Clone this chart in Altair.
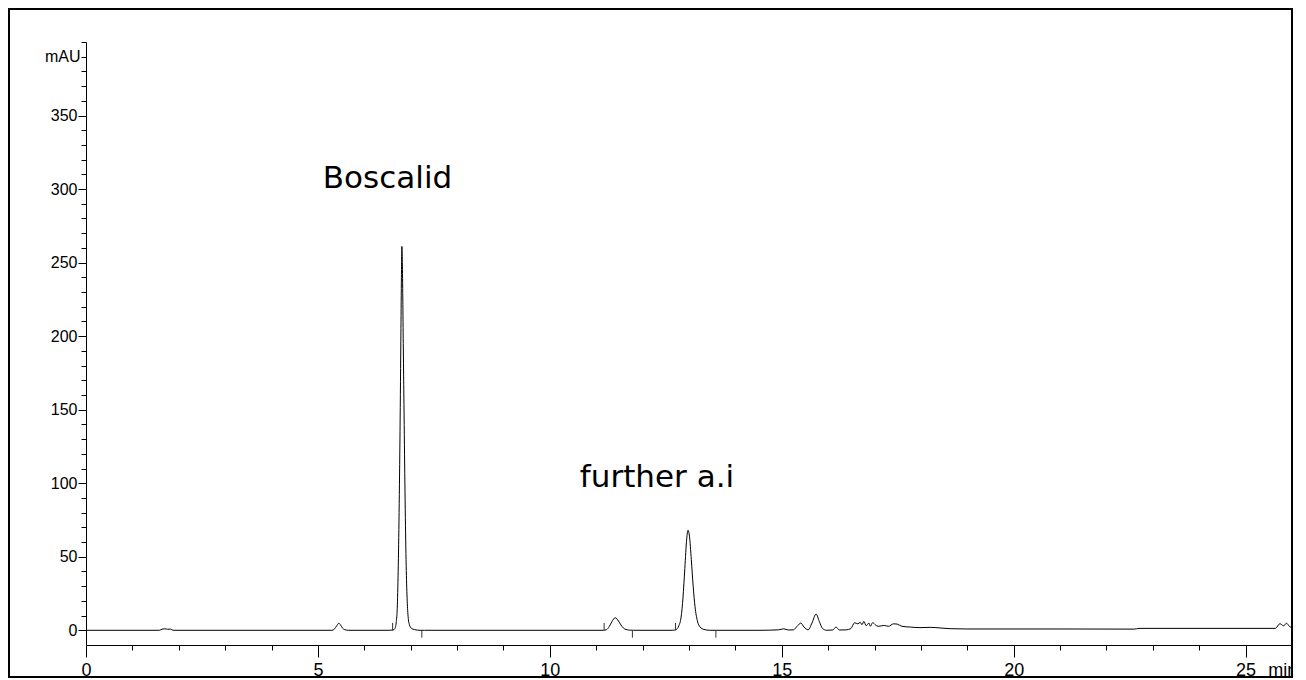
import altair as alt
import pandas as pd

# ---- chromatogram trace (time in min, signal in mAU) ----
start_t = [0.0, 1.58, 1.64, 1.70, 1.76, 1.82, 1.88, 5.30, 5.36, 5.40, 5.45, 5.49, 5.53, 5.58, 5.66, 6.55]
start_v = [0.0, 0.0, 0.8, 1.0, 0.7, 0.8, 0.0, 0.0, 1.0, 2.8, 4.8, 3.5, 1.5, 0.4, 0.0, 0.0]

boscalid_t = [6.62, 6.66, 6.69, 6.71, 6.73, 6.75, 6.77, 6.79, 6.80, 6.81, 6.82, 6.84, 6.86, 6.88,
              6.90, 6.92, 6.94, 6.97, 7.01, 7.08, 7.20]
boscalid_v = [0.2, 1.2, 6.0, 15.0, 40.0, 80.0, 135.0, 205.0, 240.0, 261.0, 250.0, 195.0, 140.0, 88.0,
              48.0, 24.0, 11.0, 4.0, 1.5, 0.5, 0.0]

mid_t = [11.15, 11.22, 11.28, 11.34, 11.41, 11.48, 11.55, 11.62, 11.72, 11.80]
mid_v = [0.0, 0.4, 2.5, 6.0, 8.5, 6.3, 2.8, 0.8, 0.1, 0.0]

further_t = [12.65, 12.72, 12.78, 12.83, 12.87, 12.91, 12.95, 12.98, 13.01, 13.05, 13.09, 13.13,
             13.18, 13.24, 13.32, 13.45]
further_v = [0.0, 0.5, 3.0, 9.0, 22.0, 42.0, 62.0, 68.0, 64.0, 48.0, 30.0, 16.0,
             6.5, 2.2, 0.6, 0.0]

late_t = [14.53, 14.93, 15.04, 15.14, 15.25, 15.34, 15.41, 15.48, 15.57, 15.65, 15.74, 15.81, 15.88,
          15.97, 16.10, 16.17, 16.24, 16.39, 16.49, 16.57, 16.64, 16.69, 16.73, 16.77, 16.82, 16.88,
          16.91, 16.96, 17.02, 17.08, 17.21, 17.30, 17.41, 17.49, 17.59, 17.77, 17.98, 18.20, 18.41,
          18.63, 18.99, 21.00, 22.60, 22.70, 25.64, 25.74, 25.82, 25.88, 25.95, 26.00]
late_v = [0.0, 0.3, 1.0, 0.2, 0.3, 3.1, 4.9, 2.2, 0.3, 4.9, 11.0, 6.0, 1.2,
          0.0, 0.2, 2.2, 0.2, 0.3, 1.2, 5.1, 4.4, 5.4, 3.8, 6.0, 3.1, 4.9,
          2.7, 5.2, 3.6, 2.7, 3.3, 2.7, 4.4, 4.2, 2.7, 2.2, 1.8, 2.0, 1.6,
          1.1, 0.9, 0.9, 0.8, 1.3, 1.3, 4.5, 3.0, 4.8, 2.5, 1.8]

# integration start/end markers
marker_t = [6.61, 7.24, 11.17, 11.78, 12.71, 13.58]
marker_lo = [0, -5, 0, -5, 0, -5]
marker_hi = [5, 0, 5, 0, 5, 0]

# peak labels
label_text = ["Boscalid", "further a.i"]
label_t = [6.50, 12.31]
label_v = [300.9, 97.2]

# axis ticks
x_ticks = list(range(0, 27))
y_ticks = list(range(0, 401, 10))

trace = pd.DataFrame({
    "t": start_t + boscalid_t + [7.30] + mid_t + further_t + late_t,
    "v": start_v + boscalid_v + [0.0] + mid_v + further_v + late_v,
})
markers = pd.DataFrame({"t": marker_t, "lo": marker_lo, "hi": marker_hi})
labels = pd.DataFrame({"t": label_t, "v": label_v, "text": label_text})
unit = pd.DataFrame({"t": [25.49], "v": [-21.8], "text": ["min"]})

tick_font = "Liberation Sans, Arial"

xscale = alt.Scale(domain=[0, 26], range=[77, 1283], nice=False, zero=False)
yscale = alt.Scale(domain=[-10, 400], range=[636, 33], nice=False, zero=False)

xaxis = alt.Axis(
    orient="bottom", offset=-32, values=x_ticks, tickCount=200, format="d", title=None, grid=False,
    labelExpr="datum.value % 5 === 0 && datum.value < 26 ? datum.label : ''",
    tickSize={"condition": {"test": "datum.value % 5 === 0", "value": 12}, "value": 5},
    labelPadding=4, labelFont=tick_font, labelFontSize=18, labelColor="black",
    labelOverlap=False, labelFlush=False, tickColor="black", domainColor="black",
)
yaxis = alt.Axis(
    orient="left", offset=-77, values=y_ticks, tickCount=200, format="d", title=None, grid=False,
    labelExpr="datum.value === 390 ? 'mAU' : (datum.value % 50 === 0 && datum.value <= 350 ? datum.label : '')",
    tickSize={"condition": {"test": "datum.value % 50 === 0 && datum.value <= 350", "value": 8}, "value": 5},
    labelPadding=1, labelFont=tick_font, labelFontSize=16, labelColor="black",
    labelOverlap=False, labelFlush=False, tickColor="black", domainColor="black",
)

line = alt.Chart(trace).mark_line(color="black", strokeWidth=1, interpolate="monotone", clip=True).encode(
    x=alt.X("t:Q", scale=xscale, axis=xaxis),
    y=alt.Y("v:Q", scale=yscale, axis=yaxis),
)
ticks = alt.Chart(markers).mark_rule(color="#333333", strokeWidth=1).encode(
    x="t:Q", y="lo:Q", y2="hi:Q",
)
text = alt.Chart(labels).mark_text(
    font="DejaVu Sans", fontSize=31, align="center", baseline="alphabetic", color="black"
).encode(x="t:Q", y="v:Q", text="text:N")
unit_text = alt.Chart(unit).mark_text(
    font=tick_font, fontSize=18, align="left", baseline="top", color="black", clip=True
).encode(x="t:Q", y="v:Q", text="text:N")

chart = alt.layer(line, ticks, text, unit_text).properties(
    width=1283, height=668,
    autosize=alt.AutoSizeParams(type="none"),
    padding={"left": 1, "top": 1, "right": 1, "bottom": 1},
).configure_view(stroke="black", strokeWidth=2)

chart.save("out.html", embed_options={"renderer": "svg", "actions": False})
